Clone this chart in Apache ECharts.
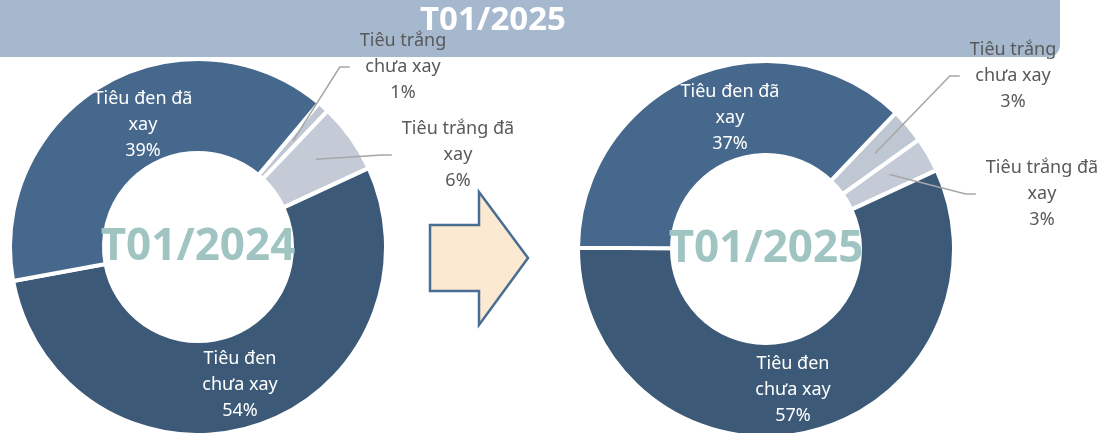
<!DOCTYPE html>
<html>
<head>
<meta charset="utf-8">
<script src="https://cdn.jsdelivr.net/npm/echarts@6/dist/echarts.min.js"></script>
<style>
  html, body { margin: 0; padding: 0; background: #fff; }
  #chart { width: 1102px; height: 433px; }
</style>
</head>
<body>
<div id="chart"></div>
<script>
const headerTitle = 'T01/2025'
const periods = ['T01/2024', 'T01/2025']
const categories = ['Tiêu trắng chưa xay', 'Tiêu trắng đã xay', 'Tiêu đen chưa xay', 'Tiêu đen đã xay']
const labelTexts = ['Tiêu trắng\nchưa xay', 'Tiêu trắng đã\nxay', 'Tiêu đen\nchưa xay', 'Tiêu đen đã\nxay']
const share2024 = [1, 6, 54, 39]
const share2025 = [3, 3, 57, 37]
const shares = [share2024, share2025]

const sliceColors = ['#bfc7d3', '#c4cbd7', '#3c5a78', '#46688c']
const font = '"Noto Sans", "DejaVu Sans", sans-serif'

// vị trí bố cục
const pieCenters = [[198, 247], [766, 249]]
const startAngles = [50, 46.4]
const labelPos = [
  [[403, 67], [458, 155], [240, 385], [143, 125]],
  [[1013, 76], [1042, 194], [793, 390], [730, 118]]
]

const chart = echarts.init(document.getElementById('chart'))

// overlay = true: vòng trong suốt phía trên, chỉ để vẽ nhãn ngoài + đường dẫn nằm trên lát
const makePie = (i, overlay) => ({
  type: 'pie',
  z: overlay ? 5 : 2,
  center: pieCenters[i],
  radius: [94, 188],
  startAngle: startAngles[i],
  clockwise: true,
  avoidLabelOverlap: false,
  animation: false,
  silent: true,
  itemStyle: overlay
    ? { color: 'rgba(0,0,0,0)', borderWidth: 0 }
    : { borderColor: '#fff', borderWidth: 4 },
  label: {
    fontFamily: font,
    fontSize: 18,
    lineHeight: 26,
    formatter: (p) => `${labelTexts[p.dataIndex]}\n${p.value}%`
  },
  labelLine: { lineStyle: { color: '#a6a6a6', width: 1.5 } },
  labelLayout: (p) => {
    const [x, y] = labelPos[i][p.dataIndex]
    const out = { x, y, align: 'center', verticalAlign: 'middle' }
    if (p.dataIndex < 2) {
      const endX = x - p.labelRect.width / 2 - 10
      out.labelLinePoints = [
        [p.rect.x + p.rect.width / 2, p.rect.y + p.rect.height / 2],
        [endX - 10, y],
        [endX, y]
      ]
    }
    return out
  },
  data: categories.map((name, k) => {
    const outside = k < 2
    const shown = overlay ? outside : !outside
    return {
      name,
      value: shares[i][k],
      itemStyle: overlay ? {} : { color: sliceColors[k] },
      label: {
        show: shown,
        position: outside ? 'outside' : 'inside',
        color: outside ? '#595959' : '#ffffff'
      },
      labelLine: { show: overlay && outside }
    }
  })
})

chart.setOption({
  backgroundColor: '#fff',
  graphic: [
    {
      type: 'rect',
      z: 0,
      shape: { x: -12, y: -12, width: 1072, height: 69, r: 12 },
      style: { fill: '#a6b8ce' }
    },
    {
      type: 'text',
      z: 1,
      x: 493,
      y: 21,
      style: {
        text: headerTitle,
        fill: '#ffffff',
        font: `bold 33px ${font}`,
        align: 'center',
        verticalAlign: 'middle'
      }
    },
    {
      type: 'polygon',
      z: 1,
      shape: {
        points: [[430, 225], [479, 225], [479, 192], [528, 258], [479, 325], [479, 291], [430, 291]]
      },
      style: { fill: '#fce9d2', stroke: '#4a6d93', lineWidth: 2.5 }
    },
    ...periods.map((t, i) => ({
      type: 'text',
      z: 100,
      x: pieCenters[i][0],
      y: pieCenters[i][1],
      style: {
        text: t,
        fill: '#9fc4c1',
        font: `bold 44px ${font}`,
        align: 'center',
        verticalAlign: 'middle'
      }
    }))
  ],
  series: [makePie(0, false), makePie(1, false), makePie(0, true), makePie(1, true)]
})

window.addEventListener('resize', () => chart.resize())
</script>
</body>
</html>
